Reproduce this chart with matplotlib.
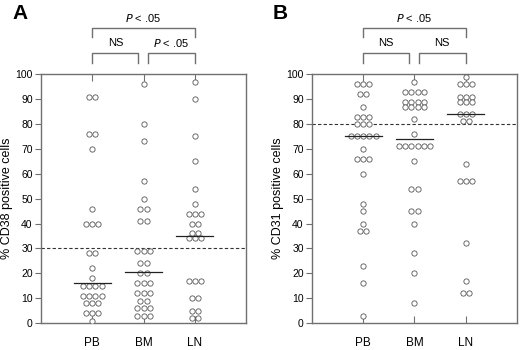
import matplotlib
matplotlib.use('Agg')
from matplotlib import pyplot as plt
from collections import Counter

plt.rcParams['font.family'] = ['Liberation Sans', 'DejaVu Sans']

groups = ["PB", "BM", "LN"]

# panel A: % CD38 positive cells
cd38_pb = [91, 91, 76, 76, 70, 46, 40, 40, 40, 28, 28, 22, 18, 15, 15, 15, 15,
           11, 11, 11, 11, 8, 8, 8, 4, 4, 4, 1]
cd38_bm = [96, 80, 73, 57, 50, 46, 46, 41, 41, 29, 29, 29, 24, 24, 20, 20,
           16, 16, 16, 12, 12, 12, 9, 9, 6, 6, 6, 3, 3, 3]
cd38_ln = [97, 90, 75, 65, 54, 48, 44, 44, 44, 40, 40, 36, 36, 34, 34, 34,
           17, 17, 17, 10, 10, 5, 5, 2, 2]
cd38_med = [16, 20.5, 35]
cd38_cut = 30

# panel B: % CD31 positive cells
cd31_pb = [96, 96, 96, 92, 92, 87, 83, 83, 83, 80, 80, 80, 75, 75, 75, 75, 75,
           70, 66, 66, 66, 60, 48, 45, 40, 37, 37, 23, 16, 3]
cd31_bm = [97, 93, 93, 93, 93, 89, 89, 89, 89, 87, 87, 87, 87, 82, 76,
           71, 71, 71, 71, 71, 71, 65, 54, 54, 45, 45, 40, 28, 20, 8]
cd31_ln = [99, 96, 96, 96, 91, 91, 91, 89, 89, 89, 84, 84, 84, 81, 81,
           64, 57, 57, 57, 32, 17, 12, 12]
cd31_med = [75, 74, 84]
cd31_cut = 80

grey = '#707070'


def panel(ax, series, med, cut, ylabel, letter, letter_x, tests):
    for i, vals in enumerate(series):
        xc = i + 1
        for v, n in Counter(vals).items():
            xs = [xc + (k - (n - 1) / 2) * 0.12 for k in range(n)]
            ax.plot(xs, [v] * n, 'o', ms=3.8, mfc='white', mec='#555555',
                    mew=0.6, zorder=3)
        ax.plot([xc - 0.36, xc + 0.36], [med[i], med[i]], color='#222222',
                lw=0.9, zorder=4)
    ax.axhline(cut, color='#333333', lw=0.8, ls=(0, (3, 2)), zorder=2)

    ax.set_xlim(0, 4)
    ax.set_ylim(0, 100)
    ax.set_yticks(range(0, 101, 10))
    ax.set_xticks([1, 2, 3])
    ax.set_xticklabels(groups, fontsize=8.5)
    for s in ax.spines.values():
        s.set_color(grey)
        s.set_linewidth(1.0)
    ax.tick_params(axis='y', direction='out', length=4, color=grey,
                   labelsize=7.5, pad=2)
    ax.tick_params(axis='x', direction='in', length=5, color=grey,
                   top=True, pad=10)
    ax.set_ylabel(ylabel, fontsize=9, labelpad=2)

    # significance brackets
    kw = dict(color=grey, lw=1.0, clip_on=False)
    ax.plot([1, 1, 3, 3], [115, 118.5, 118.5, 115], **kw)
    ax.plot([1, 1, 1.9, 1.9], [104.5, 108.5, 108.5, 104.5], **kw)
    ax.plot([2.08, 2.08, 3, 3], [104.5, 108.5, 108.5, 104.5], **kw)
    pos = [(2, 122.5), (1.45, 112.5), (2.54, 112.5)]
    for (x, y), t in zip(pos, tests):
        if t == "NS":
            ax.text(x, y, "NS", ha='center', va='center', fontsize=8)
        else:
            ax.text(x, y, r"$P$" + " < .05", ha='center', va='center',
                    fontsize=8, math_fontfamily='dejavusans')
    ax.text(letter_x, 1.245, letter, transform=ax.transAxes, fontsize=15,
            fontweight='bold', ha='right', va='center')


fig = plt.figure(figsize=(5.2, 3.5), dpi=100)
axA = fig.add_axes([0.079, 0.077, 0.394, 0.711])
axB = fig.add_axes([0.600, 0.077, 0.394, 0.711])

panel(axA, [cd38_pb, cd38_bm, cd38_ln], cd38_med, cd38_cut,
      "% CD38 positive cells", "A", -0.068, ["P", "NS", "P"])
panel(axB, [cd31_pb, cd31_bm, cd31_ln], cd31_med, cd31_cut,
      "% CD31 positive cells", "B", -0.117, ["P", "NS", "NS"])

fig.savefig('out.png', dpi=100)
